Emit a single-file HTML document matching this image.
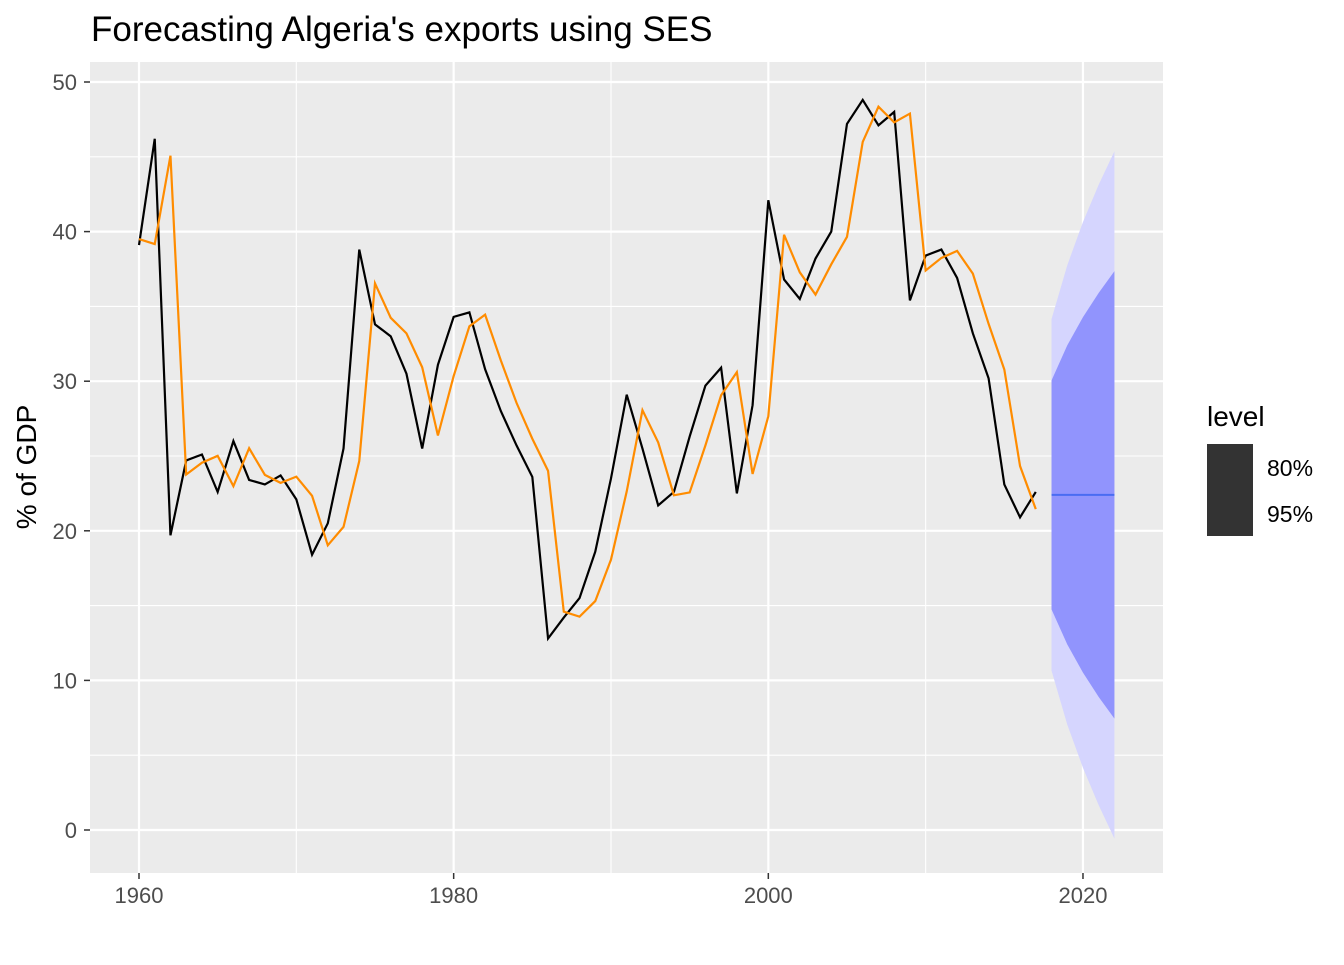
<!DOCTYPE html>
<html><head><meta charset="utf-8"><style>
body{margin:0;background:#fff;}
svg text{font-family:"Liberation Sans",sans-serif;}
</style></head><body>
<svg id="s" width="1344" height="960" xmlns="http://www.w3.org/2000/svg">
<rect x="90" y="62" width="1073" height="811" fill="#ebebeb"/>
<g id="grid"></g>
<g id="data"></g>
<text x="91" y="41" font-size="35" fill="#000">Forecasting Algeria's exports using SES</text>
<text transform="translate(36,467) rotate(-90)" font-size="28" text-anchor="middle" fill="#000">% of GDP</text>
<g id="ticks" font-size="22" fill="#4d4d4d"></g>
<text x="1207" y="426" font-size="28" fill="#000">level</text>
<rect x="1207" y="444" width="46" height="92" fill="#333333"/>
<text x="1267" y="476" font-size="23" fill="#000">80%</text>
<text x="1267" y="522" font-size="23" fill="#000">95%</text>
</svg>
<script>
var X=function(yr){return 139+(yr-1960)*15.733;};
var Y=function(v){return 830-v*14.96;};
var g=document.getElementById('grid'),t=document.getElementById('ticks'),d=document.getElementById('data');
var h='';var tk='';
for(var v=5;v<=45;v+=10)h+='<line x1="90" x2="1163" y1="'+Y(v)+'" y2="'+Y(v)+'" stroke="#fff" stroke-width="1.1"/>';
for(var yr=1970;yr<=2010;yr+=20)h+='<line y1="62" y2="873" x1="'+X(yr)+'" x2="'+X(yr)+'" stroke="#fff" stroke-width="1.1"/>';
for(var v=0;v<=50;v+=10){h+='<line x1="90" x2="1163" y1="'+Y(v)+'" y2="'+Y(v)+'" stroke="#fff" stroke-width="2.2"/>';
tk+='<text x="77" y="'+(Y(v)+8)+'" text-anchor="end">'+v+'</text><line x1="84" x2="90" y1="'+Y(v)+'" y2="'+Y(v)+'" stroke="#333" stroke-width="1.5"/>';}
for(var yr=1960;yr<=2020;yr+=20){h+='<line y1="62" y2="873" x1="'+X(yr)+'" x2="'+X(yr)+'" stroke="#fff" stroke-width="2.2"/>';
tk+='<text x="'+X(yr)+'" y="903" text-anchor="middle">'+yr+'</text><line y1="873" y2="879" x1="'+X(yr)+'" x2="'+X(yr)+'" stroke="#333" stroke-width="1.5"/>';}
g.innerHTML=h;t.innerHTML=tk;
var ys=[39.1,46.2,19.7,24.7,25.1,22.6,26.0,23.4,23.1,23.7,22.1,18.4,20.5,25.5,38.8,33.8,33.0,30.5,25.5,31.1,34.3,34.6,30.8,28.0,25.7,23.6,12.8,14.2,15.5,18.6,23.5,29.1,25.5,21.7,22.6,26.3,29.7,30.9,22.5,28.4,42.1,36.8,35.5,38.2,40.0,47.2,48.8,47.1,48.0,35.4,38.4,38.8,36.9,33.2,30.2,23.1,20.9,22.6];
var a=0.84,l=39.5,fit=[];
for(var i=0;i<ys.length;i++){fit.push(l);l=a*ys[i]+(1-a)*l;}
var fc=22.4;
function band(w1){var up=[],lo=[];for(var k=1;k<=5;k++){var s=Math.sqrt(1+(k-1)*a*a);var w=w1*s;var x=X(2017+k);up.push(x+','+Y(fc+w));lo.unshift(x+','+Y(fc-w));}return up.concat(lo).join(' ');}
var o='';
o+='<polygon points="'+band(11.75)+'" fill="#d5d5fe"/>';
o+='<polygon points="'+band(7.65)+'" fill="#9194fd"/>';
o+='<line x1="'+X(2018)+'" x2="'+X(2022)+'" y1="'+Y(fc)+'" y2="'+Y(fc)+'" stroke="#4a6cf2" stroke-width="2"/>';
var p1=ys.map(function(v,i){return X(1960+i)+','+Y(v);}).join(' ');
var p2=fit.map(function(v,i){return X(1960+i)+','+Y(v);}).join(' ');
o+='<polyline points="'+p1+'" fill="none" stroke="#000" stroke-width="2.2"/>';
o+='<polyline points="'+p2+'" fill="none" stroke="#ff8c00" stroke-width="2.2"/>';
d.innerHTML=o;
</script>
</body></html>
